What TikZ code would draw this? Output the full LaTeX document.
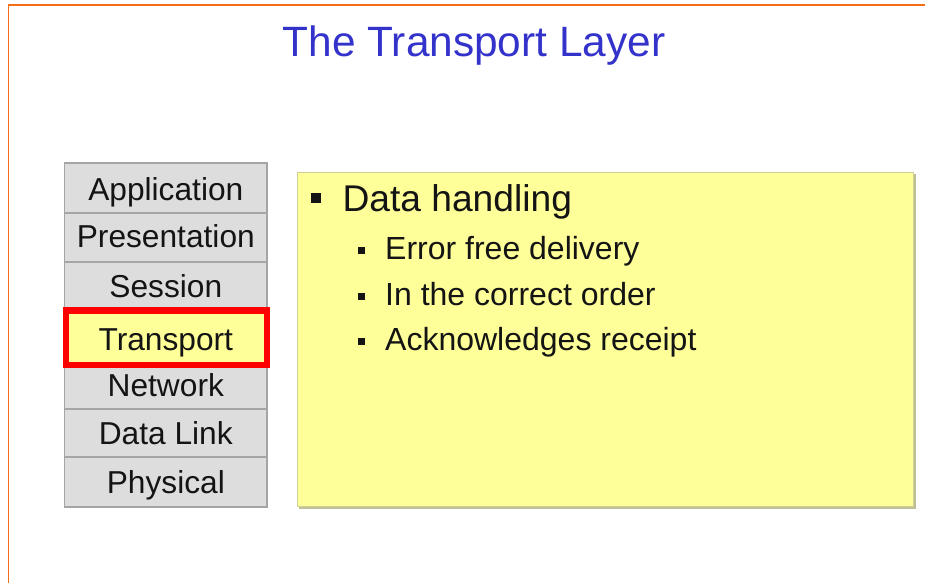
\documentclass[tikz,border=0pt]{standalone}
\usepackage{fontspec}
\setmainfont{Liberation Sans}
\usetikzlibrary{shadows}
\definecolor{frameor}{RGB}{245,110,20}
\definecolor{titleblue}{RGB}{51,51,204}
\definecolor{cellgray}{RGB}{221,221,221}
\definecolor{cellline}{RGB}{165,165,165}
\definecolor{noteyellow}{RGB}{255,255,153}
\definecolor{noteline}{RGB}{208,208,150}
\definecolor{noteshadow}{RGB}{192,192,150}
\definecolor{hilite}{RGB}{255,0,0}
\definecolor{textblack}{RGB}{20,20,20}
\begin{document}
\begin{tikzpicture}[x=1pt,y=-1pt,
  cell/.style={draw=cellline, line width=1.4pt, fill=cellgray, minimum width=202.5pt,
    inner sep=0pt, outer sep=0pt, anchor=north west},
  lab/.style={anchor=base, inner sep=0pt, text=textblack, font=\fontsize{31.7}{36}\selectfont},
  redbox/.style={draw=hilite, fill=noteyellow, line width=6.5pt, minimum width=200.8pt, minimum height=54.2pt, inner sep=0pt},
  notebox/.style={draw=noteline, line width=1pt, fill=noteyellow, minimum width=616.6pt,
    minimum height=334.3pt, inner sep=0pt, anchor=north west,
    drop shadow={shadow xshift=2pt, shadow yshift=-2pt, fill=noteshadow, opacity=1}},
  bul/.style={fill=textblack, inner sep=0pt},
  lvlone/.style={anchor=base west, inner sep=0pt, text=textblack, font=\fontsize{37.2}{40}\selectfont},
  lvltwo/.style={anchor=base west, inner sep=0pt, text=textblack, font=\fontsize{32}{36}\selectfont},
  frame/.style={draw=frameor, line width=1.6pt}
]
\useasboundingbox[fill=white] (0,0) rectangle (925,583);
% orange frame
\coordinate (fbl) at (8.3,583);
\coordinate (ftl) at (8.3,5.3);
\coordinate (ftr) at (925,5.3);
\draw[frame] (fbl) -- (ftl) -- (ftr);
% title
\node[anchor=base, inner sep=0pt, text=titleblue, font=\fontsize{42.4}{46}\selectfont] (title) at (474,56.7) {The Transport Layer};
% stack
\node[cell, minimum height=50pt] (app) at (64.5,163) {};
\node[cell, minimum height=49pt] (pres) at (app.south west) {};
\node[cell, minimum height=49pt] (sess) at (pres.south west) {};
\node[cell, minimum height=49pt, fill=noteyellow] (trans) at (sess.south west) {};
\node[cell, minimum height=49pt] (net) at (trans.south west) {};
\node[cell, minimum height=48pt] (dl) at (net.south west) {};
\node[cell, minimum height=50pt] (phy) at (dl.south west) {};
\node[redbox] (hl) at (166.35,337.65) {};
\node[lab] (lapp) at (165.8,200) {Application};
\node[lab] (lpres) at (165.8,247.5) {Presentation};
\node[lab] (lsess) at (165.8,297.5) {Session};
\node[lab] (ltrans) at (165.8,350) {Transport};
\node[lab] (lnet) at (165.8,396) {Network};
\node[lab] (ldl) at (165.8,444) {Data Link};
\node[lab] (lphy) at (165.8,493.5) {Physical};
% note box
\node[notebox] (note) at (296.7,171.7) {};
\node[bul, minimum size=10pt] (b0) at (316.2,198.3) {};
\node[lvlone] (t0) at (342.3,211.7) {Data handling};
\node[bul, minimum size=7pt] (b1) at (361.7,250.3) {};
\node[lvltwo] (t1) at (385,259.8) {Error free delivery};
\node[bul, minimum size=7pt] (b2) at (361.7,296) {};
\node[lvltwo] (t2) at (385,305.3) {In the correct order};
\node[bul, minimum size=7pt] (b3) at (361.7,341.7) {};
\node[lvltwo] (t3) at (385,350.8) {Acknowledges receipt};
\end{tikzpicture}
\end{document}
